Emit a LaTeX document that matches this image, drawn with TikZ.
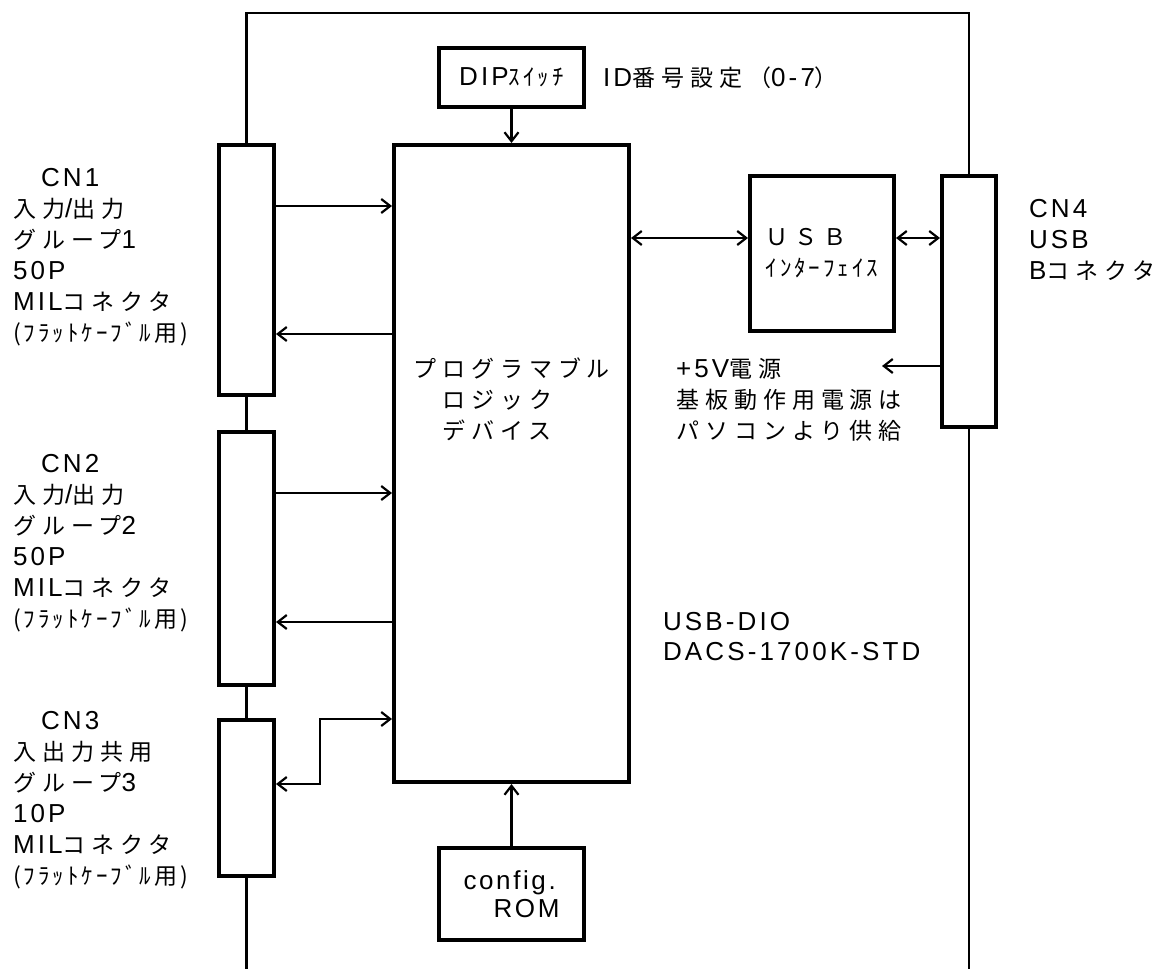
\documentclass[tikz,border=0pt]{standalone}
\usepackage{fontspec}
\setmainfont{Noto Sans CJK JP}[LetterSpace=26]
\newfontfamily\hwfont{Noto Sans CJK JP}[LetterSpace=13]
\newfontfamily\latf{Liberation Sans}[LetterSpace=12]
\newfontfamily\romf{Liberation Sans}[LetterSpace=10]
\newcommand{\lat}[1]{{\latf\fontsize{26}{31}\selectfont #1}}
\usetikzlibrary{arrows.meta,positioning,calc}

\begin{document}
\begin{tikzpicture}[x=1pt, y=-1pt, font=\fontsize{23}{31}\selectfont,
    line width=2.2pt, >={Straight Barb[length=9pt,width=14pt]}]
  \tikzset{blk/.style={draw, line width=4pt, inner sep=0, align=left},
           txt/.style={anchor=north west, inner sep=0, align=left}}
  \useasboundingbox (0,0) rectangle (1166,969);

  % connectors on the board edge
  \node[blk, minimum width=55pt, minimum height=250pt] (cn1) at (246.5,270)   {};
  \node[blk, minimum width=55pt, minimum height=253pt] (cn2) at (246.5,558.5) {};
  \node[blk, minimum width=55pt, minimum height=156pt] (cn3) at (246.5,798)   {};
  \node[blk, minimum width=54pt, minimum height=251pt] (cn4) at (969,301.5)   {};

  % parts on the board
  \node[blk, minimum width=235pt, minimum height=637pt] (pld) at (511.5,463.5) {};
  \node[blk, minimum width=145pt, minimum height=59pt]  (dip) at (511.5,77.5)
       {\lat{DIP}{\hwfont ｽｲｯﾁ}};
  \node[blk, minimum width=144pt, minimum height=155pt] (usb) at (822,253.5)
       {ＵＳＢ\\{\hwfont ｲﾝﾀｰﾌｪｲｽ}};
  \node[blk, minimum width=145pt, minimum height=92pt, font=\romf\fontsize{26}{28}\selectfont]
       (rom) at (511.5,894) {config.\\\hspace{30pt}ROM\hspace{20pt}};

  % board outline
  \coordinate (top) at (600,13);
  \coordinate (bot) at (600,969);
  \draw (cn1.north) |- (top) -| (cn4.north);
  \draw (cn1.south) -- (cn2.north);
  \draw (cn2.south) -- (cn3.north);
  \draw (cn3.south) -- (cn3.south |- bot);
  \draw (cn4.south) -- (cn4.south |- bot);

  % texts
  \node[txt] (cn1txt) at (12,167) {\hspace{28pt}\lat{CN1}\\入力\lat{/}出力\\グループ\lat{1}\\\lat{50P}\\\lat{MIL}コネクタ\\{\hwfont (ﾌﾗｯﾄｹｰﾌﾞﾙ用)}};
  \node[txt] (cn2txt) at (12,453) {\hspace{28pt}\lat{CN2}\\入力\lat{/}出力\\グループ\lat{2}\\\lat{50P}\\\lat{MIL}コネクタ\\{\hwfont (ﾌﾗｯﾄｹｰﾌﾞﾙ用)}};
  \node[txt] (cn3txt) at (12,710) {\hspace{28pt}\lat{CN3}\\入出力共用\\グループ\lat{3}\\\lat{10P}\\\lat{MIL}コネクタ\\{\hwfont (ﾌﾗｯﾄｹｰﾌﾞﾙ用)}};
  \node[txt] (cn4txt) at (1028,198) {\lat{CN4}\\\lat{USB}\\\lat{B}コネクタ};
  \node[txt] (pldtxt) at (412,357) {プログラマブル\\　ロジック\\　デバイス};
  \node[txt] (pwrtxt) at (675,357) {\lat{+5V}電源\\基板動作用電源は\\パソコンより供給};
  \node[txt, font=\latf\fontsize{26}{30}\selectfont] (model) at (662,611) {USB-DIO\\DACS-1700K-STD};
  \node[anchor=west, inner sep=0] (idtxt) at (602,78) {\lat{ID}番号設定（\lat{0-7}）};

  % signal paths
  \coordinate (a1) at (0,206);
  \coordinate (a2) at (0,334);
  \coordinate (a3) at (0,493);
  \coordinate (a4) at (0,622);
  \draw[->] (cn1.east |- a1) -- (pld.west |- a1);
  \draw[->] (pld.west |- a2) -- (cn1.east |- a2);
  \draw[->] (cn2.east |- a3) -- (pld.west |- a3);
  \draw[->] (pld.west |- a4) -- (cn2.east |- a4);
  \coordinate (a5) at (320,719);
  \draw[<->] (cn3.east |- pld.south) -| (a5) -- (pld.west |- a5);

  \coordinate (u1) at (0,238);
  \draw[<->] (pld.east |- u1) -- (usb.west |- u1);
  \draw[<->] (usb.east |- u1) -- (cn4.west |- u1);
  \coordinate (pw) at (882,366);
  \draw[->] (cn4.west |- pw) -- (pw);

  \draw[->] (dip) -- (pld);
  \draw[->] (rom) -- (pld);
\end{tikzpicture}
\end{document}
